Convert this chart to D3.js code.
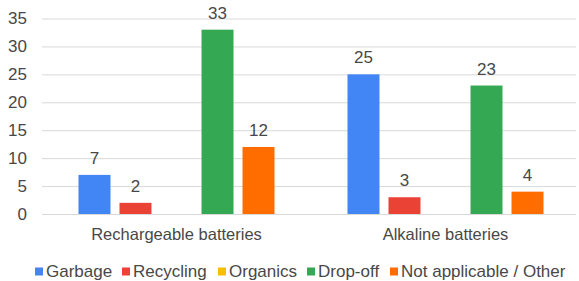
<!DOCTYPE html>
<html><head><meta charset="utf-8">
<script src="https://cdn.jsdelivr.net/npm/d3@7"></script>
<style>body{margin:0;background:#fff}svg{display:block}text{font-family:Arial,"Liberation Sans",sans-serif}</style>
</head><body><svg id="c" width="579" height="281"></svg>
<script>
const categories = ["Rechargeable batteries", "Alkaline batteries"];
const seriesNames = ["Garbage", "Recycling", "Organics", "Drop-off", "Not applicable / Other"];
const seriesColors = ["#4285F4", "#EA4335", "#FBBC04", "#34A853", "#FF6D01"];
const garbage = [7, 25];
const recycling = [2, 3];
const organics = [0, 0];
const dropoff = [33, 23];
const other = [12, 4];
const yTicks = [0, 5, 10, 15, 20, 25, 30, 35];

(function(){
const seriesValues = [garbage, recycling, organics, dropoff, other];
const svg = d3.select("#c");
const pLeft = 42, pRight = 580, pTop = 18.5, pBottom = 214;
const textColor = "#484848";
const ff = "Arial, 'Liberation Sans', sans-serif";

const y = d3.scaleLinear().domain([0, 35]).range([pBottom, pTop]);
const x0 = d3.scaleBand().domain(categories).range([pLeft, pRight]).paddingInner(0).paddingOuter(0);
const x1 = d3.scaleBand().domain(seriesNames).range([0, x0.bandwidth()]).paddingInner(0.22).paddingOuter(0.89);

const yAxis = d3.axisLeft(y).tickValues(yTicks).tickSize(-(576 - pLeft)).tickPadding(15);
const gy = svg.append("g").attr("transform", `translate(${pLeft},0)`).call(yAxis);
gy.select(".domain").remove();
gy.selectAll(".tick line").attr("stroke", "#d9d9d9").attr("stroke-width", 1);
gy.selectAll(".tick text").attr("fill", textColor).style("font-size", "17px").style("font-family", ff).attr("x", -15);

const groups = svg.append("g").selectAll("g").data(categories).join("g")
  .attr("transform", d => `translate(${x0(d)},0)`);
groups.each(function(cat, ci) {
  const g = d3.select(this);
  seriesNames.forEach((s, si) => {
    const v = seriesValues[si][ci];
    if (v > 0) {
      g.append("rect").attr("x", x1(s)).attr("width", x1.bandwidth())
        .attr("y", y(v)).attr("height", y(0) - y(v)).attr("fill", seriesColors[si]);
      g.append("text").attr("x", x1(s) + x1.bandwidth() / 2).attr("y", y(v) - 11)
        .attr("text-anchor", "middle").attr("fill", textColor).style("font-size", "17px").text(v);
    }
  });
});

const xAxis = d3.axisBottom(x0).tickSize(0).tickPadding(14);
const gx = svg.append("g").attr("transform", `translate(0,${pBottom})`).call(xAxis);
gx.select(".domain").remove();
gx.selectAll(".tick text").attr("fill", textColor).style("font-size", "16.5px").style("font-family", ff);

const legendX = [37, 124, 220, 309, 392];
const lg = svg.append("g");
seriesNames.forEach((s, i) => {
  lg.append("rect").attr("x", legendX[i] - 2).attr("y", 267.5).attr("width", 8).attr("height", 8).attr("fill", seriesColors[i]);
  lg.append("text").attr("x", legendX[i] + 9).attr("y", 277)
    .attr("fill", textColor).style("font-size", "17px").text(s);
});
})();
</script></body></html>
